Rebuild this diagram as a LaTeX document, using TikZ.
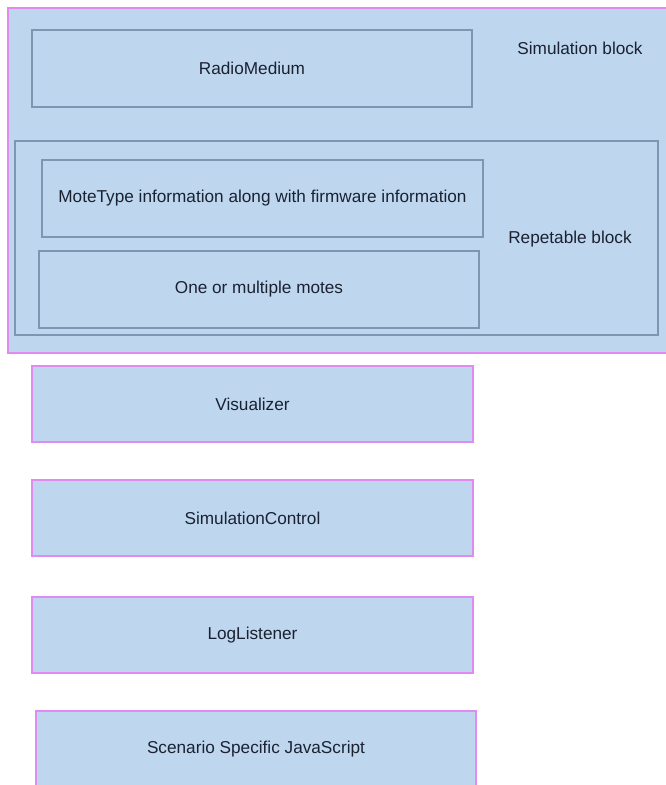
\documentclass[tikz,border=0pt]{standalone}
\usepackage{fontspec}
\setmainfont{Liberation Sans}
\definecolor{boxfill}{HTML}{BED7EF}
\definecolor{innerline}{HTML}{7D97B3}
\definecolor{outerline}{HTML}{E08AF2}
\definecolor{txt}{HTML}{1A2232}
\tikzset{
  basebox/.style={rectangle, fill=boxfill, inner sep=0pt, line width=1.1pt,
    font=\fontsize{17.2}{20}\selectfont, text=txt},
  innerbox/.style={basebox, draw=innerline},
  outerbox/.style={basebox, draw=outerline},
  label/.style={font=\fontsize{17.2}{20}\selectfont, text=txt, inner sep=0pt}
}
\begin{document}
\begin{tikzpicture}[x=1pt,y=-1pt]
\clip (0,0) rectangle (666,785);
\fill[white] (0,0) rectangle (666,785);
% simulation block
\node[outerbox, minimum width=664pt, minimum height=345pt] (sim) at (340,180.5) {};
\node[label] (simlbl) at (580,48) {Simulation block};
\node[innerbox, minimum width=440pt, minimum height=77pt] (rm) at (252,68.5) {RadioMedium};
% repeatable block
\node[innerbox, minimum width=643pt, minimum height=194pt] (rep) at (336.5,238) {};
\node[label] (replbl) at (570,239) {Repetable block};
\node[innerbox, minimum width=441pt, minimum height=77pt] (mt) at (262.5,198.5) {MoteType information along with firmware information};
\node[innerbox, minimum width=440pt, minimum height=77pt] (motes) at (259,289.5) {One or multiple motes};
% other blocks
\node[outerbox, minimum width=441pt, minimum height=76pt] (vis) at (252.5,404) {Visualizer};
\node[outerbox, minimum width=441pt, minimum height=76pt] (sc) at (252.5,518) {SimulationControl};
\node[outerbox, minimum width=441pt, minimum height=76pt] (ll) at (252.5,635) {LogListener};
\node[outerbox, minimum width=440pt, minimum height=76pt] (js) at (256,749) {Scenario Specific JavaScript};
\end{tikzpicture}
\end{document}
